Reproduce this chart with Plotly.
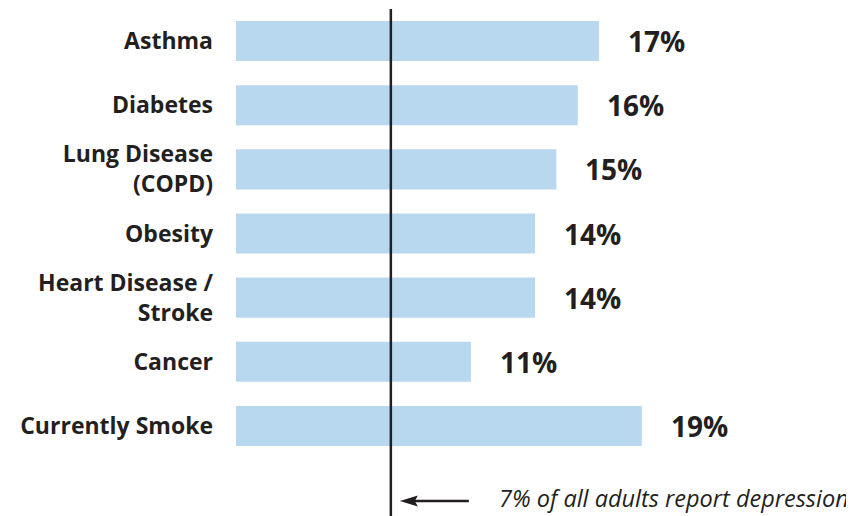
import plotly.graph_objects as go

# data
condicoes = ["Asthma", "Diabetes", "Lung Disease<br>(COPD)", "Obesity",
             "Heart Disease /<br>Stroke", "Cancer", "Currently Smoke"]
percentuais = [17, 16, 15, 14, 14, 11, 19]
rotulos = ["17%", "16%", "15%", "14%", "14%", "11%", "19%"]
taxa_depressao = 7.25   # linha de referência (7% de todos os adultos)
texto_depressao = "7% of all adults report depression"

COR_BARRA = "#b8d8f0"
COR_TEXTO = "#231f20"
FONTE = "Open Sans"
Y_SETA = -0.096  # altura da seta (paper)

fig = go.Figure(go.Bar(
    x=percentuais,
    y=condicoes,
    orientation="h",
    marker=dict(color=COR_BARRA, line=dict(width=0)),
    hoverinfo="skip",
))

# rótulos de valor à direita das barras
for cat, val, rot in zip(condicoes, percentuais, rotulos):
    fig.add_annotation(
        x=val, y=cat, text=rot, showarrow=False,
        xanchor="left", yanchor="middle", xshift=27,
        font=dict(family=FONTE, size=28, color=COR_TEXTO, weight="bold"),
    )

# linha vertical de referência
fig.add_shape(
    type="line", xref="x", yref="paper",
    x0=taxa_depressao, x1=taxa_depressao, y0=-0.14, y1=1,
    line=dict(color=COR_TEXTO, width=2.5),
)

# seta (haste + ponta) em pixels a partir da linha
fig.add_shape(
    type="line", xref="x", yref="paper",
    xsizemode="pixel", xanchor=taxa_depressao,
    ysizemode="pixel", yanchor=Y_SETA,
    x0=22, x1=78, y0=0, y1=0,
    line=dict(color=COR_TEXTO, width=2.5),
)
fig.add_shape(
    type="path", xref="x", yref="paper",
    xsizemode="pixel", xanchor=taxa_depressao,
    ysizemode="pixel", yanchor=Y_SETA,
    path="M9,0 L27,5.5 L24,0 L27,-5.5 Z",
    fillcolor=COR_TEXTO, line=dict(width=0),
)

fig.add_annotation(
    x=taxa_depressao, y=-0.088, xref="x", yref="paper",
    text="<i>" + texto_depressao + "</i>", showarrow=False,
    xanchor="left", yanchor="middle", xshift=106,
    font=dict(family=FONTE, size=23.5, color=COR_TEXTO),
)

# a página tem 8px de margem no body, então a figura fica 8px menor
fig.update_layout(
    width=846, height=508,
    margin=dict(l=228, r=20, t=1, b=58),
    paper_bgcolor="white", plot_bgcolor="white",
    showlegend=False,
    bargap=0.375,
    xaxis=dict(range=[0, 28], visible=False, fixedrange=True),
    yaxis=dict(
        autorange="reversed", showgrid=False, zeroline=False, showline=False,
        ticks="", ticklabelstandoff=22,
        tickfont=dict(family=FONTE, size=23, color=COR_TEXTO, weight="bold"),
    ),
)

fig.write_html("out.html")
